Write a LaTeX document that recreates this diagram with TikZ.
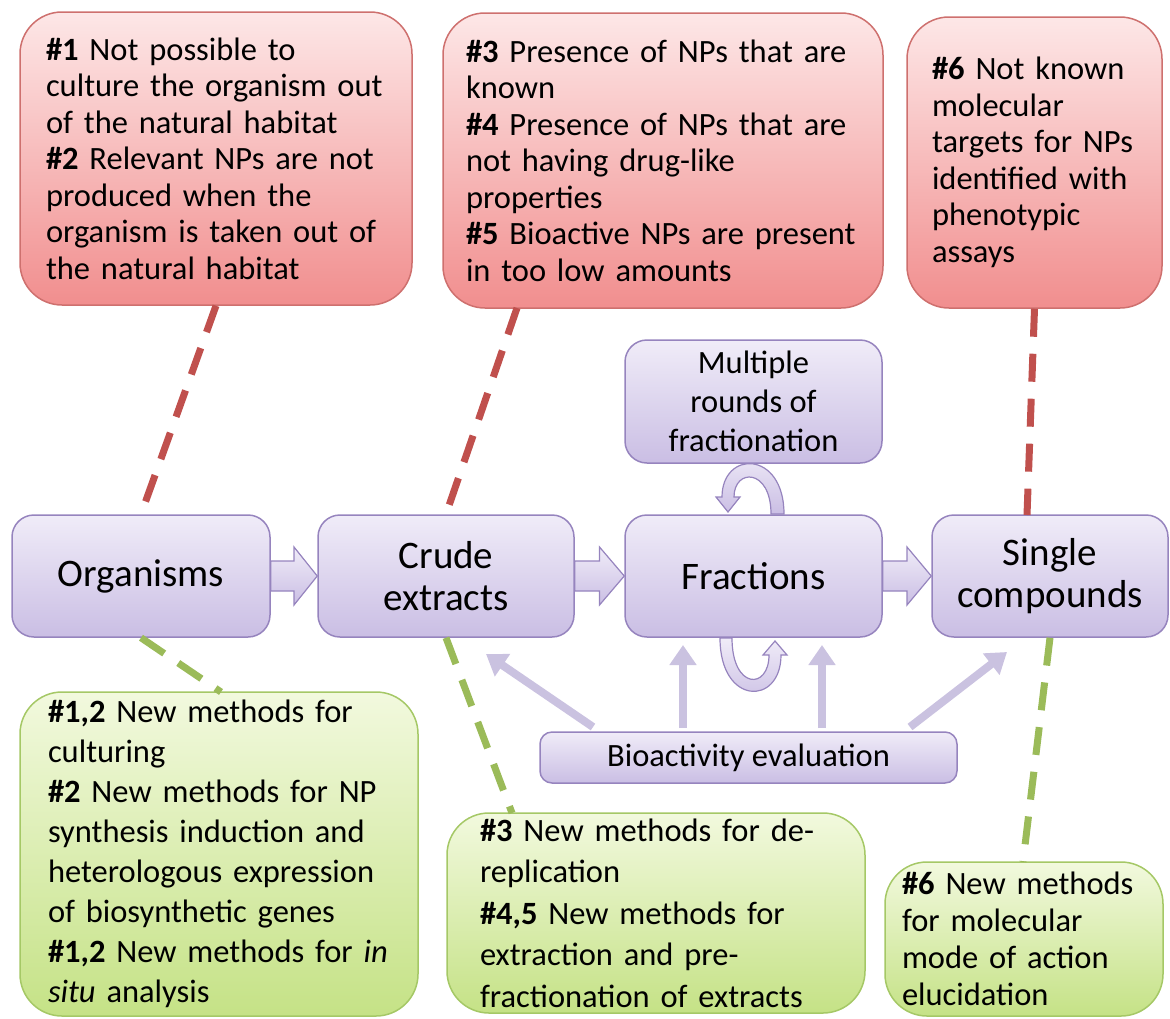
\documentclass[tikz,border=0pt]{standalone}
\usepackage{fontspec}
\setmainfont{Carlito}
\usetikzlibrary{arrows.meta,calc}

\definecolor{redtop}{RGB}{253,231,231}
\definecolor{redbot}{RGB}{241,142,142}
\definecolor{redline}{RGB}{206,112,110}
\definecolor{redDash}{RGB}{192,80,77}
\definecolor{purtop}{RGB}{240,236,248}
\definecolor{purbot}{RGB}{202,190,228}
\definecolor{purline}{RGB}{150,132,190}
\definecolor{grntop}{RGB}{242,249,222}
\definecolor{grnbot}{RGB}{197,226,134}
\definecolor{grnline}{RGB}{165,200,102}
\definecolor{grnDash}{RGB}{155,187,89}
\definecolor{bioline}{RGB}{202,194,224}

\begin{document}
\begin{tikzpicture}[x=1pt, y=-1pt,
  redbox/.style = {draw=redline, line width=1.5pt, top color=redtop, bottom color=redbot,
                   rounded corners=42pt, align=left, inner ysep=0pt,
                   font=\fontsize{32.5}{36.5}\selectfont},
  grnbox/.style = {draw=grnline, line width=1.5pt, top color=grntop, bottom color=grnbot,
                   rounded corners=42pt, align=left, inner ysep=0pt},
  stage/.style = {draw=purline, line width=1.5pt, top color=purtop, bottom color=purbot,
                  rounded corners=22pt, align=center, inner sep=0pt,
                  font=\fontsize{39}{42}\selectfont},
  fatarr/.style = {draw=purline, line width=1.2pt, top color=purtop, bottom color=purbot},
  reddash/.style = {draw=redDash, line width=7pt, dash pattern=on 28pt off 17pt},
  grndash/.style = {draw=grnDash, line width=7pt, dash pattern=on 28pt off 17pt},
  bioarr/.style = {draw=bioline, line width=8pt, -{Triangle[width=26pt,length=20pt]}}]
\useasboundingbox (0,0) rectangle (1170,1018);

% problems (red)
\node[redbox, inner xsep=26pt, text width=340pt, minimum height=293pt] (red1) at (216,158.5)
  {\textbf{\#1} Not possible to\\ culture the organism out\\ of the natural habitat\\
   \textbf{\#2} Relevant NPs are not\\ produced when the\\ organism is taken out of\\ the natural habitat};
\node[redbox, inner xsep=23pt, text width=394pt, minimum height=295pt] (red2) at (663,160.5)
  {\textbf{\#3} Presence of NPs that are\\ known\\ \textbf{\#4} Presence of NPs that are\\
   not having drug-like\\ properties\\ \textbf{\#5} Bioactive NPs are present\\ in too low amounts};
\node[redbox, inner xsep=25pt, text width=205pt, minimum height=291pt] (red3) at (1034.5,162.5)
  {\textbf{\#6} Not known\\ molecular\\ targets for NPs\\ identified with\\ phenotypic\\ assays};

% workflow
\node[stage, minimum width=258pt, minimum height=122pt] (org) at (141,576) {Organisms};
\node[stage, minimum width=256pt, minimum height=122pt] (crude) at (446,576) {Crude\\ extracts};
\node[stage, minimum width=257pt, minimum height=122pt] (frac) at (753.5,576) {Fractions};
\node[stage, minimum width=236pt, minimum height=122pt] (single) at (1050,576) {Single\\ compounds};
\node[stage, minimum width=257pt, minimum height=123pt, font=\fontsize{32.5}{39}\selectfont] (multi) at (753.5,401.5)
  {Multiple\\ rounds of\\ fractionation};
\node[stage, rounded corners=12pt, minimum width=417pt, minimum height=51pt, font=\fontsize{32.5}{36}\selectfont] (bio) at (748.5,757.5)
  {Bioactivity evaluation};

% solutions (green)
\node[grnbox, inner xsep=28pt, text width=342pt, minimum height=324pt, font=\fontsize{32.5}{40}\selectfont] (grn1) at (219,854)
  {\textbf{\#1,2} New methods for\\ culturing\\ \textbf{\#2} New methods for NP\\ synthesis induction and\\
   heterologous expression\\ of biosynthetic genes\\ \textbf{\#1,2} New methods for \textit{in}\\ \textit{situ} analysis};
\node[grnbox, inner xsep=33pt, text width=352pt, minimum height=200pt, font=\fontsize{32.5}{41.5}\selectfont] (grn2) at (656,913)
  {\textbf{\#3} New methods for de-\\ replication\\ \textbf{\#4,5} New methods for\\ extraction and pre-\\ fractionation of extracts};
\node[grnbox, inner xsep=17pt, text width=244pt, minimum height=154pt, font=\fontsize{32.5}{37}\selectfont] (grn3) at (1024,939)
  {\textbf{\#6} New methods\\ for molecular\\ mode of action\\ elucidation};

% block arrows
\draw[fatarr] ($(org.east)+(0,-15)$) -- ($(org.east)!.5!(crude.west)+(0,-15)$) -- ($(org.east)!.5!(crude.west)+(0,-29)$) -- (crude.west) -- ($(org.east)!.5!(crude.west)+(0,29)$) -- ($(org.east)!.5!(crude.west)+(0,15)$) -- ($(org.east)+(0,15)$) -- cycle;
\draw[fatarr] ($(crude.east)+(0,-15)$) -- ($(crude.east)!.5!(frac.west)+(0,-15)$) -- ($(crude.east)!.5!(frac.west)+(0,-29)$) -- (frac.west) -- ($(crude.east)!.5!(frac.west)+(0,29)$) -- ($(crude.east)!.5!(frac.west)+(0,15)$) -- ($(crude.east)+(0,15)$) -- cycle;
\draw[fatarr] ($(frac.east)+(0,-15)$) -- ($(frac.east)!.5!(single.west)+(0,-15)$) -- ($(frac.east)!.5!(single.west)+(0,-29)$) -- (single.west) -- ($(frac.east)!.5!(single.west)+(0,29)$) -- ($(frac.east)!.5!(single.west)+(0,15)$) -- ($(frac.east)+(0,15)$) -- cycle;

% loops round the fractions
\draw[fatarr] (784,514) .. controls (784,450) and (722,450) .. (722,497) -- (716,497) -- (728,512) -- (740,497) -- (734,497) .. controls (734,468) and (771,468) .. (771,514) -- cycle;
\draw[fatarr] (720,638) .. controls (720,706) and (781,706) .. (781,655) -- (787,655) -- (775,641) -- (763,655) -- (769,655) .. controls (769,690) and (732,690) .. (732,638) -- cycle;

% bioactivity feedback
\coordinate (b1) at (593,727);
\coordinate (b2) at (683,728);
\coordinate (b3) at (822,728);
\coordinate (b4) at (910,727);
\coordinate (c1) at (486,654);
\coordinate (c2) at (683,645);
\coordinate (c3) at (822,645);
\coordinate (c4) at (1007,652);
\draw[bioarr] (b1) -- (c1);
\draw[bioarr] (b2) -- (c2);
\draw[bioarr] (b3) -- (c3);
\draw[bioarr] (b4) -- (c4);

% dashed links
\coordinate (r2) at (517,308);
\coordinate (s1) at (1027,515);
\coordinate (g1) at (221,692);
\coordinate (g2) at (512,813);
\coordinate (g3) at (1023,862);
\draw[reddash] (red1.south) -- (org.north);
\draw[reddash] (r2) -- (crude.north);
\draw[reddash] (red3.south) -- (s1);
\draw[grndash] (org.south) -- (g1);
\draw[grndash] (crude.south) -- (g2);
\draw[grndash] (single.south) -- (g3);
\end{tikzpicture}
\end{document}
